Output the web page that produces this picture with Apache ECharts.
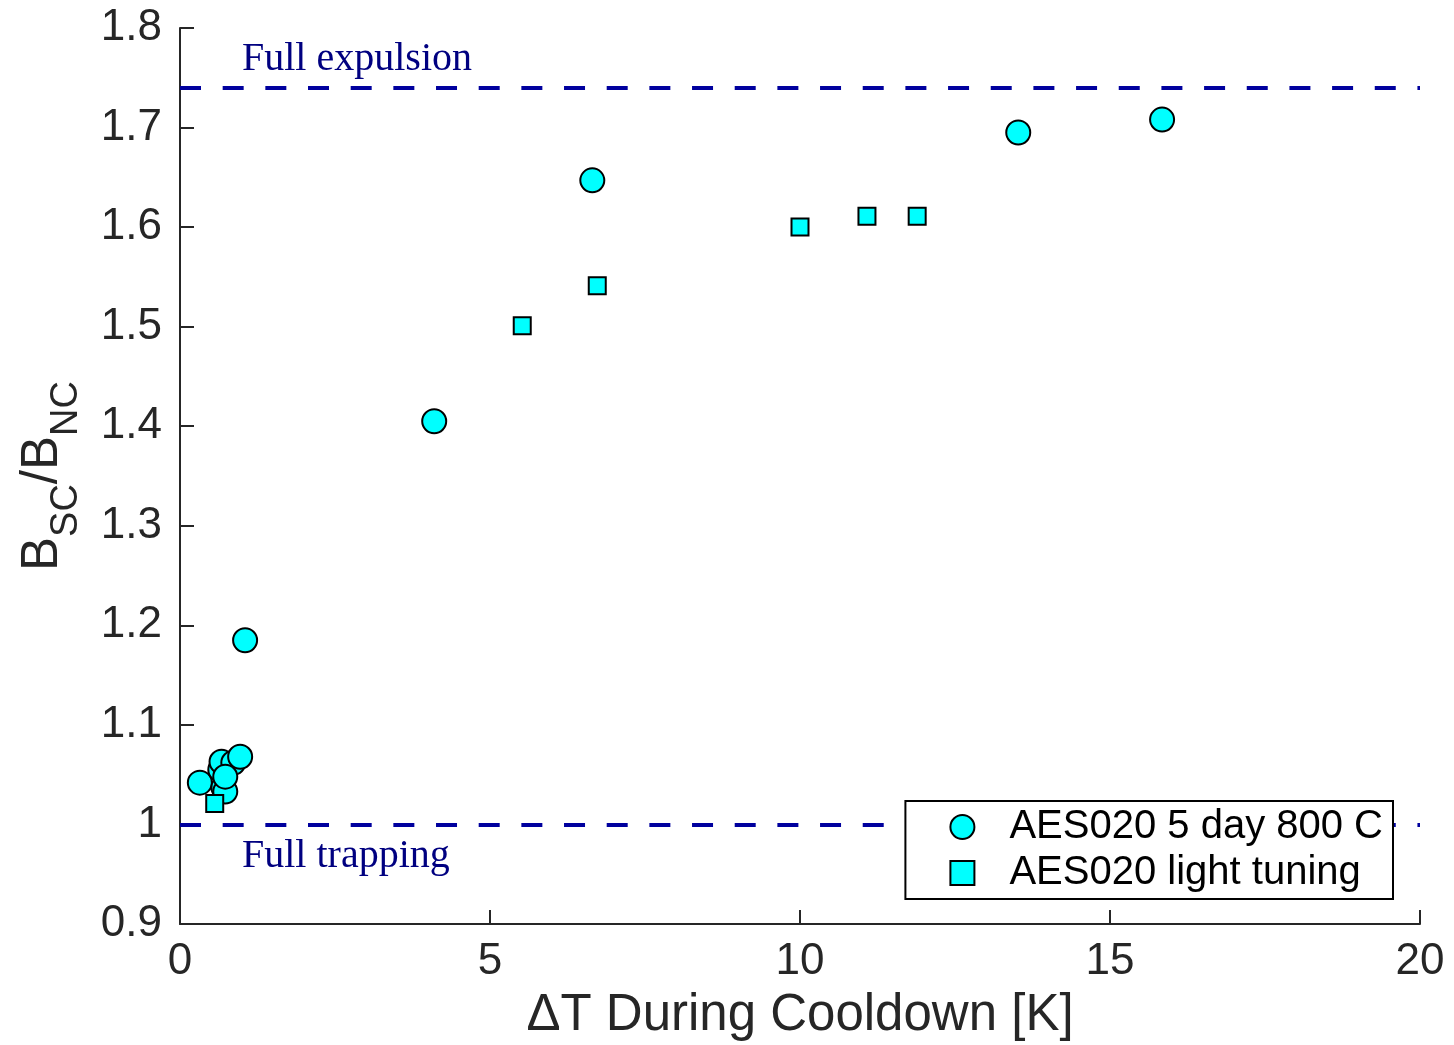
<!DOCTYPE html>
<html><head><meta charset="utf-8">
<script src="https://cdn.jsdelivr.net/npm/echarts@6/dist/echarts.min.js"></script>
<style>html,body{margin:0;padding:0;background:#fff}#c{width:1454px;height:1045px}</style>
</head><body><div id="c"></div>
<script>
const seriesNames = ['AES020 5 day 800 C', 'AES020 light tuning'];
const anneal5dayX = [0.32, 0.70, 0.73, 0.65, 0.67, 0.86, 0.73, 0.97, 1.05, 4.10, 6.65, 13.52, 15.84];
const anneal5dayY = [1.042, 1.037, 1.033, 1.055, 1.063, 1.062, 1.048, 1.068, 1.185, 1.405, 1.647, 1.695, 1.708];
const lightTuningX = [0.56, 5.52, 6.73, 10.0, 11.08, 11.89];
const lightTuningY = [1.021, 1.501, 1.541, 1.600, 1.611, 1.611];
const refLineValues = [1.74, 1.0];
const refLineLabels = ['Full expulsion', 'Full trapping'];

const chart = echarts.init(document.getElementById('c'));
const zip = (a, b) => a.map((v, i) => [v, b[i]]);
const txt = '#262626';
chart.setOption({
  animation: false,
  backgroundColor: '#fff',
  grid: { left: 180, right: 34, top: 28, bottom: 121, containLabel: false, outerBoundsMode: 'none' },
  xAxis: {
    type: 'value', min: 0, max: 20, interval: 5,
    name: 'ΔT During Cooldown [K]', nameLocation: 'middle', nameGap: 66,
    nameTextStyle: { fontFamily: 'Liberation Sans', fontSize: 51, color: txt },
    axisLine: { lineStyle: { color: txt, width: 2 } },
    axisTick: { inside: true, length: 14, lineStyle: { color: txt, width: 2 } },
    axisLabel: { fontFamily: 'Liberation Sans', fontSize: 44, color: txt, margin: 16 },
    splitLine: { show: false }
  },
  yAxis: {
    type: 'value', min: 0.9, max: 1.8, interval: 0.1,
    name: '{b|B}{s|SC}{b|/B}{s|NC}', nameLocation: 'middle', nameGap: 112, nameRotate: 90,
    nameTextStyle: {
      rich: {
        b: { fontFamily: 'Liberation Sans', fontSize: 51, color: txt, verticalAlign: 'bottom', lineHeight: 56 },
        s: { fontFamily: 'Liberation Sans', fontSize: 38, color: txt, verticalAlign: 'bottom', padding: [0, 0, -18, 0], lineHeight: 56 }
      }
    },
    axisLine: { show: true, lineStyle: { color: txt, width: 2 } },
    axisTick: { show: true, inside: true, length: 14, lineStyle: { color: txt, width: 2 } },
    axisLabel: {
      fontFamily: 'Liberation Sans', fontSize: 44, color: txt, margin: 18,
      formatter: v => { const r = Math.round(v * 10) / 10; return Number.isInteger(r) ? String(r) : r.toFixed(1); }
    },
    splitLine: { show: false }
  },
  legend: {
    right: 61, top: 801, orient: 'vertical', z: 20,
    backgroundColor: '#fff', borderColor: '#000', borderWidth: 2, borderRadius: 0,
    padding: [6, 10, 6, 44], itemGap: 6, itemWidth: 24, itemHeight: 24,
    textStyle: { fontFamily: 'Liberation Sans', fontSize: 40, color: '#000', padding: [0, 0, 0, 30] },
    data: [
      { name: seriesNames[0], icon: 'circle' },
      { name: seriesNames[1], icon: 'path://M0,0L10,0L10,10L0,10Z' }
    ]
  },
  series: [
    {
      name: seriesNames[0], type: 'scatter', symbol: 'circle', symbolSize: 24,
      itemStyle: { color: '#00FFFF', borderColor: '#000', borderWidth: 2, opacity: 1 },
      data: zip(anneal5dayX, anneal5dayY), z: 3,
      markLine: {
        silent: true, symbol: 'none',
        lineStyle: { color: '#00009E', type: [21, 21.67], width: 4 },
        label: { show: true, position: 'insideStartTop', distance: [62, 8],
          fontFamily: 'Liberation Serif', fontSize: 40, color: '#000080',
          formatter: p => p.name },
        data: [
          { yAxis: refLineValues[0], name: refLineLabels[0] },
          { yAxis: refLineValues[1], name: refLineLabels[1],
            label: { position: 'insideStartBottom', distance: [62, 12] } }
        ]
      }
    },
    {
      name: seriesNames[1], type: 'scatter', symbol: 'rect', symbolSize: 17,
      itemStyle: { color: '#00FFFF', borderColor: '#000', borderWidth: 2, opacity: 1 },
      data: zip(lightTuningX, lightTuningY), z: 4
    }
  ]
});
</script></body></html>
